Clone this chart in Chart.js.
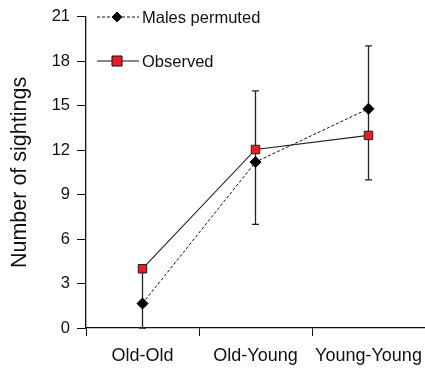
<!DOCTYPE html>
<html><head><meta charset="utf-8">
<script src="https://cdn.jsdelivr.net/npm/chart.js@4/dist/chart.umd.min.js"></script>
<style>html,body{margin:0;padding:0;background:#fff}#wrap{width:425px;height:369px}</style>
</head><body><div id="wrap"><canvas id="c" width="425" height="369"></canvas></div>
<script>
const categories = ["Old-Old", "Old-Young", "Young-Young"];
const permuted = [1.65, 11.2, 14.8];
const observed = [4.0, 12.05, 13.0];
const errLow = [0, 7.0, 10.0];
const errHigh = [4.0, 16.0, 19.05];
const yTicks = [0, 3, 6, 9, 12, 15, 18, 21];
const seriesNames = ["Males permuted", "Observed"];

const errorBars = {
  id: 'errorBars',
  beforeDatasetsDraw(chart) {
    const ctx = chart.ctx, xs = chart.scales.x, ys = chart.scales.y;
    ctx.save();
    ctx.strokeStyle = '#222'; ctx.lineWidth = 1.3;
    categories.forEach((c, i) => {
      const x = xs.getPixelForValue(i);
      const y1 = ys.getPixelForValue(errLow[i]), y2 = ys.getPixelForValue(errHigh[i]);
      ctx.beginPath(); ctx.moveTo(x, y1); ctx.lineTo(x, y2);
      ctx.moveTo(x - 3.5, y1); ctx.lineTo(x + 3.5, y1);
      ctx.moveTo(x - 3.5, y2); ctx.lineTo(x + 3.5, y2);
      ctx.stroke();
    });
    ctx.restore();
  }
};

const legendPlugin = {
  id: 'customLegend',
  afterDraw(chart) {
    const ctx = chart.ctx;
    ctx.save();
    const rows = [17, 61];
    chart.data.datasets.forEach((ds, i) => {
      const y = rows[i];
      ctx.strokeStyle = '#111'; ctx.lineWidth = 1;
      ctx.setLineDash(ds.borderDash || []);
      ctx.beginPath(); ctx.moveTo(97, y); ctx.lineTo(139, y); ctx.stroke();
      ctx.setLineDash([]);
      const mx = 117;
      ctx.fillStyle = ds.pointBackgroundColor; ctx.strokeStyle = '#111';
      ctx.beginPath();
      if (ds.pointStyle === 'rectRot') {
        ctx.moveTo(mx, y - 5); ctx.lineTo(mx + 5, y); ctx.lineTo(mx, y + 5); ctx.lineTo(mx - 5, y); ctx.closePath();
      } else {
        ctx.rect(mx - 5, y - 5, 10, 10);
      }
      ctx.fill(); ctx.stroke();
      ctx.fillStyle = '#111';
      ctx.font = '16.5px "Liberation Sans", Arial, sans-serif';
      ctx.textBaseline = 'middle'; ctx.textAlign = 'left';
      ctx.fillText(ds.label, 142, y + 1);
    });
    ctx.restore();
  }
};

new Chart(document.getElementById('c'), {
  type: 'line',
  data: {
    labels: categories,
    datasets: [
      {
        label: seriesNames[0], data: permuted,
        borderColor: '#111', borderWidth: 1, borderDash: [3, 2],
        pointStyle: 'rectRot', pointRadius: 5.5, pointBackgroundColor: '#000',
        pointBorderColor: '#000', pointBorderWidth: 1, order: 2
      },
      {
        label: seriesNames[1], data: observed,
        borderColor: '#222', borderWidth: 1.1,
        pointStyle: 'rect', pointRadius: 6, pointBackgroundColor: '#ec1c24',
        pointBorderColor: '#222', pointBorderWidth: 1, order: 1
      }
    ]
  },
  options: {
    responsive: false, animation: false, devicePixelRatio: 1,
    layout: { autoPadding: false, padding: { top: 16, right: 0, left: 0, bottom: 0 } },
    plugins: { legend: { display: false }, tooltip: { enabled: false } },
    scales: {
      x: {
        type: 'category', offset: true,
        grid: { offset: true, drawOnChartArea: false, tickLength: 8, color: '#111', tickWidth: 1 },
        border: { color: '#111', width: 1.3 },
        ticks: { color: '#111', font: { family: '"Liberation Sans", Arial, sans-serif', size: 18 }, padding: 9, maxRotation: 0 },
        afterFit(s) { s.height = 41; s.paddingLeft = 0; s.paddingRight = 0; }
      },
      y: {
        min: 0, max: 21,
        afterBuildTicks(s) { s.ticks = yTicks.map(v => ({ value: v })); },
        grid: { drawOnChartArea: false, tickLength: 9, color: '#111', tickWidth: 1 },
        border: { color: '#111', width: 1.3 },
        ticks: { color: '#111', font: { family: '"Liberation Sans", Arial, sans-serif', size: 16.5 }, padding: 7 },
        title: { display: true, text: 'Number of sightings', color: '#111',
          font: { family: '"Liberation Sans", Arial, sans-serif', size: 21.5 }, padding: { top: 7, bottom: 2 } },
        afterFit(s) { s.width = 86; }
      }
    }
  },
  plugins: [errorBars, legendPlugin]
});
</script></body></html>
